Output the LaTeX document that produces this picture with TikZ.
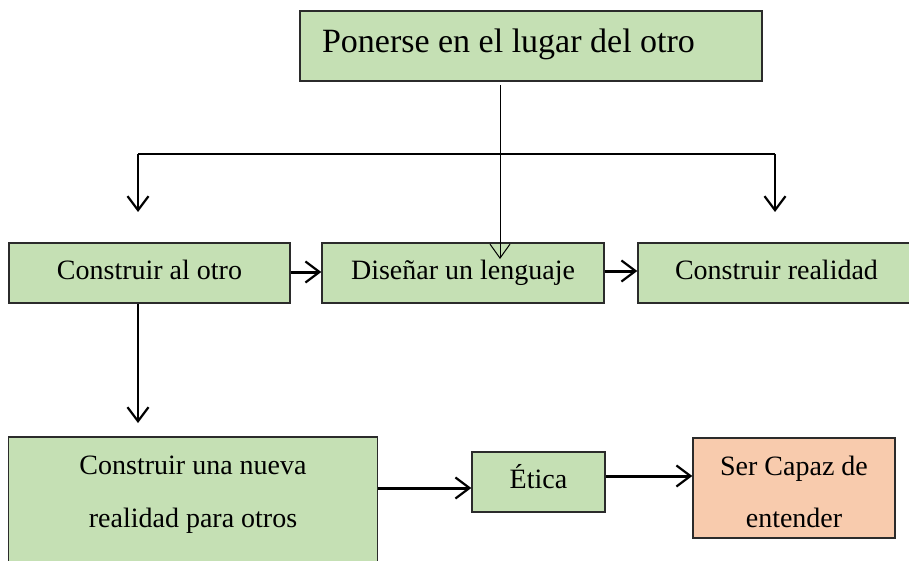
\documentclass[tikz,border=0pt]{standalone}
\usepackage{fontspec}
\setmainfont{Liberation Serif}
\usetikzlibrary{arrows.meta}
\definecolor{boxgreen}{HTML}{C5E0B4}
\definecolor{boxpeach}{HTML}{F8CBAD}
\definecolor{boxedge}{HTML}{2B2B2B}
\tikzset{
  box/.style={draw=boxedge, line width=1.5pt, fill=boxgreen, rectangle, inner sep=0pt, font=\fontsize{28}{32}\selectfont, align=center, text height=19pt, text depth=6pt},
  txt/.style={inner sep=0pt, font=\fontsize{28}{32}\selectfont, align=center},
  vee/.style={-{Straight Barb[length=14pt,width=21pt,line width=2.2pt]}},
  thinvee/.style={-{Straight Barb[length=14pt,width=20pt,line width=1pt]}},
}
\begin{document}
\begin{tikzpicture}[x=1pt,y=-1pt]
\useasboundingbox (0,0) rectangle (909,561);
\begin{scope}
\clip (0,0) rectangle (909,561);
\node[box, minimum width=462, minimum height=70, text width=418, align=flush left, inner xsep=22pt, font=\fontsize{34}{38}\selectfont, text height=24pt, text depth=10pt] (top) at (531,46) {Ponerse en el lugar del otro};
\node[box, minimum width=281, minimum height=60] (b1) at (149.5,273) {Construir al otro};
\node[box, minimum width=282, minimum height=60] (b2) at (463,273) {Diseñar un lenguaje};
\node[box, minimum width=275, minimum height=60, text width=271, align=flush left, inner xsep=0pt] (b3) at (775.5,273) {\hspace*{35pt}Construir realidad};
\node[box, minimum width=369, minimum height=140, anchor=north] (b4) at (193,436) {};
\node[txt, execute at begin node={\setlength{\baselineskip}{53pt}}] (b4t) at (193,495) {Construir una nueva\\realidad para otros};
\node[box, minimum width=133, minimum height=60] (b5) at (538.5,482) {Ética};
\node[box, fill=boxpeach, minimum width=202, minimum height=100] (b6) at (794,488) {};
\node[txt, execute at begin node={\setlength{\baselineskip}{52pt}}] (b6t) at (794,492) {Ser Capaz de\\entender};
\end{scope}
\coordinate (t0) at (500,85);
\coordinate (t1) at (500,259);
\coordinate (jl) at (138,154);
\coordinate (jr) at (775,154);
\coordinate (al) at (138,212);
\coordinate (ar) at (775,212);
\draw[thinvee, line width=1pt] (t0) -- (t1);
\draw[line width=1.5pt] (jl) -- (jr);
\draw[vee, line width=2pt] (jl) -- (al);
\draw[vee, line width=2pt] (jr) -- (ar);
\draw[vee, line width=3pt] (b1.east |- 0,272) -- (b2.west |- 0,272);
\draw[vee, line width=3pt] (b2.east |- 0,271) -- (b3.west |- 0,271);
\draw[vee, line width=2.2pt] (b1.south -| 138,0) -- (138,423);
\draw[vee, line width=3pt] (b4.east |- 0,488) -- (b5.west |- 0,488);
\draw[vee, line width=3pt] (b5.east |- 0,476) -- (b6.west |- 0,476);
\end{tikzpicture}
\end{document}
